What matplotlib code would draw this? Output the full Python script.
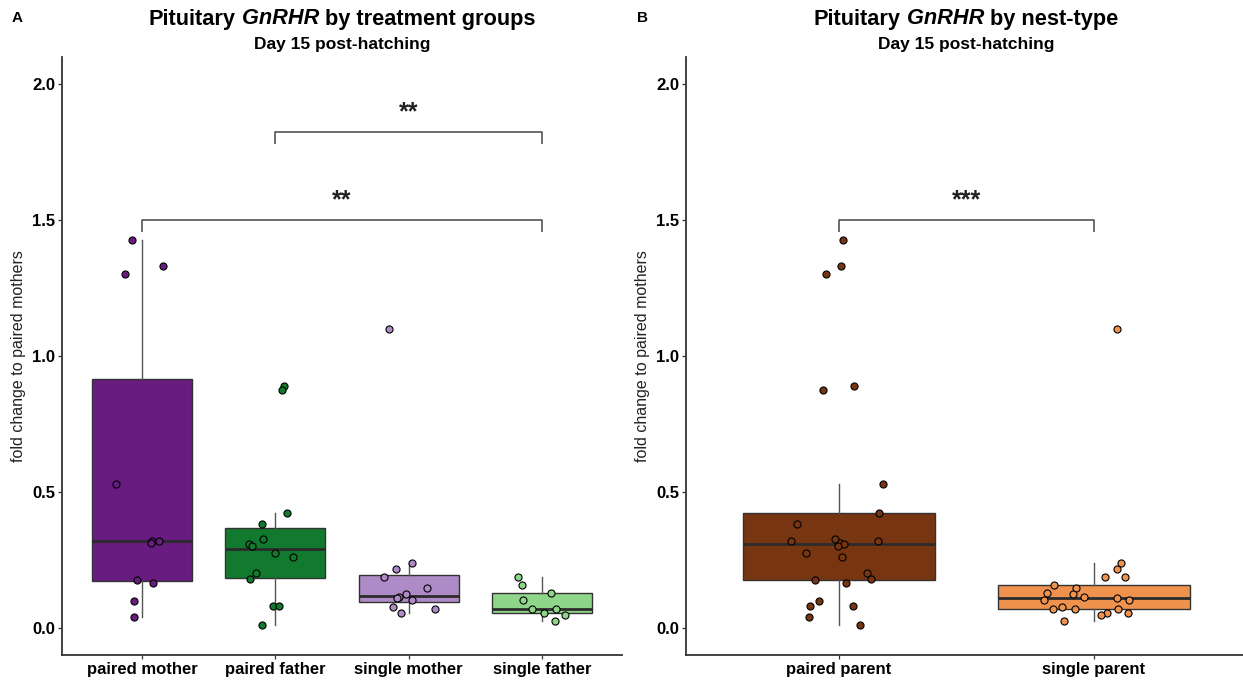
import matplotlib
matplotlib.use("Agg")
import matplotlib.pyplot as plt
from matplotlib.offsetbox import TextArea, HPacker, AnchoredOffsetbox

plt.rcParams['font.family'] = ['Liberation Sans', 'DejaVu Sans']

# ---------------- data ----------------
groups_a = ["paired mother", "paired father", "single mother", "single father"]
colors_a = ["#681C7F", "#117A2E", "#AE8BC6", "#90D68A"]

paired_mother = [1.427, 1.301, 1.330, 0.530, 0.318, 0.311, 0.318, 0.176, 0.165, 0.0995, 0.0405]
pm_jitter = [-0.073, -0.125, 0.155, -0.197, 0.073, 0.065, 0.130, -0.038, 0.083, -0.060, -0.060]
paired_father = [0.889, 0.875, 0.422, 0.382, 0.327, 0.309, 0.302, 0.275, 0.262, 0.201, 0.178, 0.080, 0.081, 0.011]
pf_jitter = [0.063, 0.050, 0.090, -0.098, -0.092, -0.195, -0.175, 0.0, 0.130, -0.147, -0.192, -0.015, 0.025, -0.102]
single_mother = [1.101, 0.239, 0.218, 0.188, 0.148, 0.124, 0.112, 0.109, 0.103, 0.076, 0.069, 0.055]
sm_jitter = [-0.148, 0.028, -0.095, -0.182, 0.140, -0.017, -0.075, -0.085, 0.028, -0.118, 0.197, -0.055]
single_father = [0.188, 0.158, 0.129, 0.101, 0.071, 0.071, 0.055, 0.048, 0.026]
sf_jitter = [-0.183, -0.148, 0.065, -0.140, -0.078, 0.105, 0.015, 0.175, 0.095]

groups_b = ["paired parent", "single parent"]
colors_b = ["#773512", "#EE924E"]
paired_parent = [1.427, 1.330, 1.301, 0.875, 0.889, 0.530, 0.422, 0.382, 0.327, 0.318, 0.318, 0.311,
                 0.309, 0.302, 0.275, 0.262, 0.201, 0.178, 0.176, 0.165, 0.0995, 0.081, 0.080, 0.0405, 0.011]
pp_jitter = [0.014, 0.009, -0.051, -0.063, 0.057, 0.173, 0.157, -0.165, -0.016, -0.189, 0.153, 0.005,
             0.020, -0.005, -0.128, 0.010, 0.109, 0.124, -0.096, 0.028, -0.079, -0.113, 0.055, -0.116, 0.084]
single_parent = [1.101, 0.239, 0.218, 0.188, 0.188, 0.158, 0.148, 0.129, 0.124, 0.112, 0.103, 0.109,
                 0.101, 0.071, 0.076, 0.071, 0.069, 0.055, 0.055, 0.048, 0.026]
sp_jitter = [0.090, 0.107, 0.090, 0.043, 0.123, -0.157, -0.069, -0.186, -0.081, -0.039, -0.195, 0.090,
             0.136, -0.160, -0.126, -0.073, 0.095, 0.135, 0.052, 0.029, -0.119]

# significance brackets: (group index from, group index to, height, label)
brackets_a = [(1, 3, 1.823, "**"), (0, 3, 1.50, "**")]
brackets_b = [(0, 1, 1.50, "***")]

yticks = [0.0, 0.5, 1.0, 1.5, 2.0]

# ---------------- figure ----------------
W, H = 1243, 680
fig = plt.figure(figsize=(W / 100, H / 100), dpi=100)
fig.patch.set_facecolor("white")

def fx(px):
    return px / W

def fy(py):
    return 1 - py / H

axA = fig.add_axes([fx(62), fy(655), fx(622) - fx(62), fy(57) - fy(655)])
axB = fig.add_axes([fx(686), fy(655), fx(1247) - fx(686), fy(57) - fy(655)])

EDGE = "#333333"

def draw_panel(ax, groups, colors, values, jitters, brackets):
    pos = list(range(1, len(groups) + 1))
    bp = ax.boxplot(values, positions=pos, widths=0.75, whis=1.5, showfliers=False,
                    patch_artist=True, manage_ticks=False,
                    boxprops=dict(edgecolor=EDGE, linewidth=1.0),
                    whiskerprops=dict(color="#555555", linewidth=1.0),
                    capprops=dict(linewidth=0),
                    medianprops=dict(color="#2b2b2b", linewidth=2.0))
    for patch, c in zip(bp["boxes"], colors):
        patch.set_facecolor(c)
    for p, vals, jit, c in zip(pos, values, jitters, colors):
        ax.scatter([p + j for j in jit], vals, s=26, facecolor=c, edgecolor="black",
                   linewidth=0.8, zorder=5)
    for i, j, h, lab in brackets:
        x1, x2 = pos[i], pos[j]
        ax.plot([x1, x1, x2, x2], [h - 0.042, h, h, h - 0.042], color="#444444", linewidth=1.1,
                solid_capstyle="butt", zorder=4)
        ax.text((x1 + x2) / 2, h + 0.03, lab, ha="center", va="bottom", fontsize=18,
                fontweight="bold", color="#222222")
    ax.set_xlim(0.4, len(groups) + 0.6)
    ax.set_ylim(-0.1, 2.1)
    ax.set_xticks(pos)
    ax.set_xticklabels(groups, fontsize=12, fontweight="bold", color="black")
    ax.set_yticks(yticks)
    ax.set_yticklabels([f"{t:.1f}" for t in yticks], fontsize=12, fontweight="bold", color="black")
    ax.tick_params(axis="both", length=3, width=0.9, color=EDGE, pad=2)
    for s in ["top", "right"]:
        ax.spines[s].set_visible(False)
    for s in ["left", "bottom"]:
        ax.spines[s].set_color(EDGE)
        ax.spines[s].set_linewidth(1.3)
    ax.set_ylabel("fold change to paired mothers", fontsize=11.5, color="#222222", labelpad=4)

draw_panel(axA, groups_a, colors_a,
           [paired_mother, paired_father, single_mother, single_father],
           [pm_jitter, pf_jitter, sm_jitter, sf_jitter], brackets_a)
draw_panel(axB, groups_b, colors_b, [paired_parent, single_parent],
           [pp_jitter, sp_jitter], brackets_b)

def mixed_title(pieces, xc, yc, size):
    areas = [TextArea(t, textprops=dict(fontsize=size, fontweight="bold", fontstyle=st, color="black"))
             for t, st in pieces]
    box = HPacker(children=areas, align="baseline", pad=0, sep=0)
    anc = AnchoredOffsetbox(loc="center", child=box, pad=0, borderpad=0, frameon=False,
                            bbox_to_anchor=(fx(xc), fy(yc)), bbox_transform=fig.transFigure)
    fig.add_artist(anc)

mixed_title([("Pituitary", "normal"), (" GnRHR", "italic"), (" by treatment groups", "normal")],
            342, 19, 15.7)
fig.text(fx(342), fy(45), "Day 15 post-hatching", ha="center", va="center", fontsize=12.5,
         fontweight="bold")
mixed_title([("Pituitary", "normal"), (" GnRHR", "italic"), (" by nest-type", "normal")],
            966, 19, 15.7)
fig.text(fx(966), fy(45), "Day 15 post-hatching", ha="center", va="center", fontsize=12.5,
         fontweight="bold")

fig.text(fx(17), fy(18), "A", ha="center", va="center", fontsize=11, fontweight="bold")
fig.text(fx(643), fy(18), "B", ha="center", va="center", fontsize=11, fontweight="bold")

fig.savefig("out.png", dpi=100, facecolor="white")
